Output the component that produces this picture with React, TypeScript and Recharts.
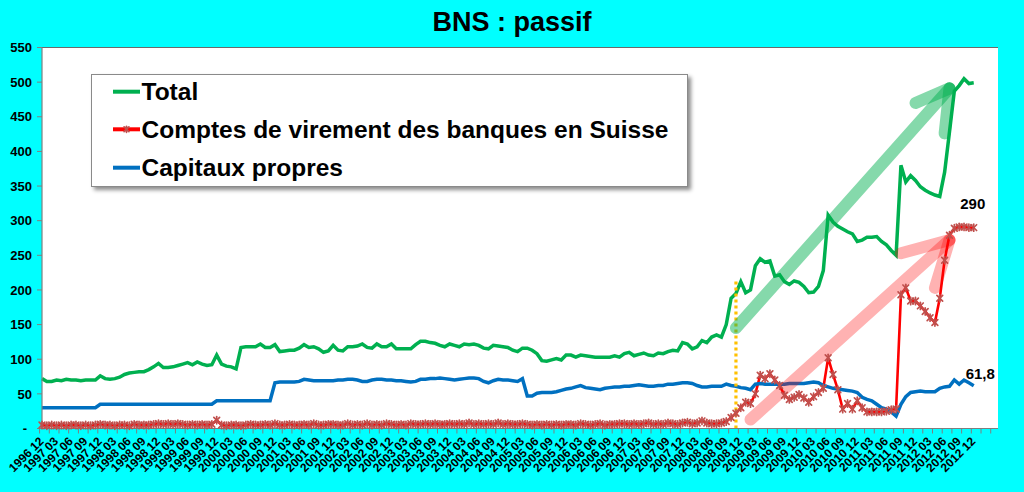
import React from 'react';
import {
  LineChart,
  Line,
  XAxis,
  YAxis,
  CartesianGrid,
  ReferenceLine,
  ReferenceDot,
  Legend,
} from 'recharts';

// ---------- categories ----------
const YEARS = ['1996', '1997', '1998', '1999', '2000', '2001', '2002', '2003', '2004', '2005', '2006', '2007', '2008', '2009', '2010', '2011', '2012', '2013'];
const MONTHS = ['01', '02', '03', '04', '05', '06', '07', '08', '09', '10', '11', '12'];
const CATEGORIES = YEARS.flatMap((y) => MONTHS.map((m) => `${y} ${m}`)).slice(11, 11 + 198);
const LAST_LABEL = '2012 12';
const Y_TICKS = [0, 50, 100, 150, 200, 250, 300, 350, 400, 450, 500, 550];

// ---------- series (monthly, 1996 12 -> 2012 12) ----------
const TOTAL = [
  72, 68, 68, 70, 69, 71, 70, 70, 69, 70, 70, 70,
  76, 72, 71, 72, 74, 78, 80, 81, 82, 82, 85, 89,
  94, 88, 88, 89, 91, 93, 95, 92, 96, 93, 91, 92,
  106, 93, 90, 89, 86, 117, 118, 118, 118, 122, 117, 117,
  121, 111, 112, 113, 113, 116, 121, 117, 118, 115, 110, 112,
  120, 113, 112, 118, 118, 119, 122, 117, 116, 122, 118, 118,
  122, 115, 115, 115, 115, 121, 126, 126, 124, 123, 120, 118,
  122, 120, 118, 122, 121, 122, 120, 116, 115, 120, 119, 118,
  117, 113, 111, 116, 116, 113, 108, 98, 97, 99, 101, 99,
  106, 106, 103, 106, 105, 104, 103, 103, 103, 103, 105, 103,
  108, 110, 105, 107, 109, 106, 105, 109, 108, 111, 113, 112,
  124, 122, 115, 118, 127, 124, 132, 135, 132, 150, 188, 195,
  212, 196, 200, 235, 245, 240, 242, 220, 222, 212, 208, 213,
  211, 205, 196, 197, 205, 228, 308, 298, 292, 288, 284, 281,
  270, 272, 276, 276, 277, 270, 265, 257, 250, 380, 356, 365,
  358, 349, 344, 340, 337, 335, 370, 428, 487, 495, 505, 498,
  499,
];

const COMPTES = [
  5, 4, 5, 4, 5, 4, 5, 5, 4, 5, 4, 5,
  6, 5, 5, 4, 5, 5, 4, 6, 5, 5, 5, 6,
  7, 6, 7, 6, 7, 6, 5, 6, 5, 6, 5, 6,
  12, 5, 4, 5, 5, 4, 5, 6, 5, 5, 6, 5,
  7, 5, 5, 6, 5, 5, 6, 5, 7, 5, 5, 6,
  6, 5, 5, 7, 5, 6, 5, 7, 5, 6, 5, 7,
  6, 5, 6, 5, 7, 6, 6, 7, 6, 7, 6, 6,
  7, 6, 7, 6, 8, 6, 7, 6, 7, 6, 8, 6,
  7, 6, 6, 7, 6, 5, 6, 5, 6, 5, 6, 5,
  6, 6, 5, 7, 6, 5, 6, 7, 5, 6, 6, 7,
  7, 6, 7, 6, 7, 8, 6, 7, 6, 8, 7, 6,
  8, 9, 7, 8, 11, 8, 7, 7, 8, 10, 16, 22,
  30, 38, 36, 50, 77, 72, 79, 70, 62, 48, 42, 45,
  49, 44, 38, 46, 52, 58, 102, 78, 56, 28, 36, 28,
  40, 30, 24, 24, 24, 24, 25, 27, 28, 193, 203, 184,
  184, 177, 169, 160, 153, 188, 243, 279, 289, 291, 291, 290,
  290,
];

const CAPITAUX = [
  30, 30, 30, 30, 30, 30, 30, 30, 30, 30, 30, 30,
  35, 35, 35, 35, 35, 35, 35, 35, 35, 35, 35, 35,
  35, 35, 35, 35, 35, 35, 35, 35, 35, 35, 35, 35,
  40, 40, 40, 40, 40, 40, 40, 40, 40, 40, 40, 40,
  66, 67, 67, 67, 67, 68, 71, 70, 69, 69, 69, 69,
  69, 70, 70, 71, 71, 70, 68, 68, 70, 71, 71, 70,
  70, 69, 69, 68, 67, 68, 71, 71, 72, 72, 73, 72,
  71, 70, 71, 72, 73, 73, 72, 68, 66, 69, 71, 70,
  70, 69, 68, 72, 47, 47, 51, 52, 52, 52, 53, 55,
  57, 58, 60, 62, 59, 58, 57, 56, 58, 59, 60, 60,
  61, 61, 62, 63, 62, 61, 61, 62, 62, 64, 64, 65,
  66, 66, 65, 62, 60, 60, 61, 61, 61, 64, 62, 61,
  59, 58, 56, 64, 65, 64, 64, 64, 64, 64, 65, 65,
  65, 65, 66, 67, 66, 62, 60, 58, 57, 56, 55, 54,
  52, 45, 42, 40, 35, 30, 28, 24, 18, 35, 46, 52,
  53, 54, 53, 53, 53, 58, 60, 61, 70, 64, 70, 66,
  61.8,
];

// ---------- annotations (in data coordinates) ----------
const CRISIS_LINE = { x: '2008 11', top: 215 };
const GREEN_ARROW = [
  [{ x: '2008 11', y: 145 }, { x: '2012 07', y: 491 }],
  [{ x: '2012 07', y: 491 }, { x: '2011 12', y: 470 }],
  [{ x: '2012 07', y: 491 }, { x: '2012 06', y: 426 }],
];
const RED_ARROW = [
  [{ x: '2009 02', y: 13 }, { x: '2012 07', y: 272 }],
  [{ x: '2012 07', y: 272 }, { x: '2011 09', y: 253 }],
  [{ x: '2012 07', y: 272 }, { x: '2012 04', y: 203 }],
];

const SERIES = [
  { key: 'total', name: 'Total', color: '#00B050' },
  { key: 'comptes', name: 'Comptes de virement des banques en Suisse', color: '#FF0000' },
  { key: 'capitaux', name: 'Capitaux propres', color: '#0070C0' },
];

const data = CATEGORIES.map((cat, i) => ({
  cat,
  total: TOTAL[i],
  comptes: COMPTES[i],
  capitaux: CAPITAUX[i],
}));

// ---------- layout ----------
const FONT = "'Liberation Sans', Arial, Helvetica, sans-serif";
const CHART_W = 1024;
const CHART_H = 492;
const MARGIN = { top: 47.5, right: 26, left: 0, bottom: 0 };
const Y_AXIS_W = 42;
const X_AXIS_H = 63.5;
const PLOT_W = CHART_W - MARGIN.right - Y_AXIS_W;
const PLOT_BOTTOM = CHART_H - X_AXIS_H;
const CAT_W = PLOT_W / CATEGORIES.length;
const LAST_INDEX = CATEGORIES.indexOf(LAST_LABEL);
const MARKER_COLOR = '#C0504D';

function Star({ cx, cy, r = 3.6 }: { cx: number; cy: number; r?: number }) {
  const d = r * 0.8;
  return (
    <g stroke={MARKER_COLOR} strokeWidth={1.7} strokeLinecap="round">
      <line x1={cx} y1={cy - r} x2={cx} y2={cy + r} />
      <line x1={cx - d} y1={cy - d} x2={cx + d} y2={cy + d} />
      <line x1={cx - d} y1={cy + d} x2={cx + d} y2={cy - d} />
    </g>
  );
}

function StarDot(props: any) {
  const { cx, cy, value, index } = props;
  if (cx == null || cy == null || value == null || Number.isNaN(cy)) return <g key={`e${index}`} />;
  return (
    <g key={`s${index}`}>
      <Star cx={cx} cy={cy} />
    </g>
  );
}

function XTick(props: any) {
  const { x, payload } = props;
  const i = payload?.index ?? props.index;
  const showBoundary = i % 2 === 0;
  const showLabel = i % 3 === 0 && i <= LAST_INDEX;
  const ax = x + 2.5;
  const ay = PLOT_BOTTOM + 13.5;
  return (
    <g>
      {showBoundary && (
        <line x1={x - CAT_W / 2} x2={x - CAT_W / 2} y1={PLOT_BOTTOM} y2={PLOT_BOTTOM + 5} stroke="#7f7f7f" strokeWidth={1} />
      )}
      {showLabel && (
        <text
          x={ax}
          y={ay}
          transform={`rotate(-45 ${ax} ${ay})`}
          textAnchor="end"
          fontFamily={FONT}
          fontWeight={700}
          fontSize={12}
          fill="#000"
        >
          {payload.value}
        </text>
      )}
    </g>
  );
}

function YTick(props: any) {
  const { x, y, payload } = props;
  const v = payload.value;
  return (
    <text
      x={v === 0 ? x - 5 : x}
      y={y}
      dy="0.36em"
      textAnchor="end"
      fontFamily={FONT}
      fontWeight={700}
      fontSize={13}
      fill="#000"
    >
      {v === 0 ? '-' : String(v)}
    </text>
  );
}

function EndLabel({ viewBox, text, dx, dy }: any) {
  if (!viewBox) return null;
  const cx = viewBox.x + (viewBox.width || 0) / 2;
  const cy = viewBox.y + (viewBox.height || 0) / 2;
  return (
    <text x={cx + dx} y={cy + dy} textAnchor="middle" fontFamily={FONT} fontWeight={700} fontSize={15} fill="#000">
      {text}
    </text>
  );
}

function LegendBox() {
  const rows = [16.7, 54.3, 92.7];
  return (
    <div
      style={{
        width: 597,
        height: 113,
        background: '#FFFFFF',
        border: '1px solid #8a8a8a',
        boxSizing: 'border-box',
        boxShadow: '3px 3px 4px rgba(0,0,0,0.45)',
      }}
    >
      <svg width={595} height={111} style={{ display: 'block' }}>
        {SERIES.map((s, k) => (
          <g key={s.key}>
            <line x1={21} x2={48} y1={rows[k]} y2={rows[k]} stroke={s.color} strokeWidth={4} />
            {s.key === 'comptes' && <Star cx={34.5} cy={rows[k]} r={3} />}
            <text x={49.5} y={rows[k] + 8.6} fontFamily={FONT} fontWeight={700} fontSize={24.5} fill="#000">
              {s.name}
            </text>
          </g>
        ))}
      </svg>
    </div>
  );
}

const fmt = (v: number) => String(v).replace('.', ',');

export default function App() {
  return (
    <div style={{ position: 'relative', width: CHART_W, height: CHART_H, background: '#00FFFF', overflow: 'hidden' }}>
      <style>{'body{margin:0}'}</style>
      <div
        style={{
          position: 'absolute',
          left: 0,
          top: 8.7,
          width: CHART_W,
          textAlign: 'center',
          fontFamily: FONT,
          fontWeight: 700,
          fontSize: 27,
          lineHeight: '27px',
          color: '#000',
        }}
      >
        BNS : passif
      </div>
      <LineChart width={CHART_W} height={CHART_H} data={data} margin={MARGIN}>
        <CartesianGrid horizontal vertical={false} fill="#FFFFFF" stroke="#6a6a6a" strokeWidth={1.2} />
        <XAxis
          dataKey="cat"
          type="category"
          interval={0}
          height={X_AXIS_H}
          tick={<XTick />}
          tickLine={false}
          tickSize={6}
          tickMargin={2}
          axisLine={{ stroke: '#7f7f7f', strokeWidth: 1.2 }}
        />
        <YAxis
          yAxisId="left"
          width={Y_AXIS_W}
          domain={[0, 550]}
          ticks={Y_TICKS}
          interval={0}
          tick={<YTick />}
          tickSize={5}
          tickMargin={5}
          tickLine={{ stroke: '#7f7f7f' }}
          axisLine={{ stroke: '#7f7f7f', strokeWidth: 1.2 }}
        />
        <YAxis
          yAxisId="right"
          orientation="right"
          width={0}
          domain={[0, 550]}
          tick={false}
          tickLine={false}
          axisLine={{ stroke: '#9a9a9a', strokeWidth: 1.5 }}
        />
        <Legend
          layout="vertical"
          align="center"
          verticalAlign="middle"
          content={() => <LegendBox />}
          wrapperStyle={{ left: 91, top: 74, width: 597, height: 113 }}
        />
        <Line
          yAxisId="left"
          dataKey="total"
          name={SERIES[0].name}
          stroke={SERIES[0].color}
          strokeWidth={3.5}
          dot={false}
          activeDot={false}
          isAnimationActive={false}
        />
        <Line
          yAxisId="left"
          dataKey="comptes"
          name={SERIES[1].name}
          stroke={SERIES[1].color}
          strokeWidth={2.6}
          dot={StarDot}
          activeDot={false}
          isAnimationActive={false}
        />
        <Line
          yAxisId="left"
          dataKey="capitaux"
          name={SERIES[2].name}
          stroke={SERIES[2].color}
          strokeWidth={3.5}
          dot={false}
          activeDot={false}
          isAnimationActive={false}
        />
        <ReferenceLine
          yAxisId="left"
          segment={[
            { x: CRISIS_LINE.x, y: 0 },
            { x: CRISIS_LINE.x, y: CRISIS_LINE.top },
          ]}
          stroke="#FFC000"
          strokeWidth={3.2}
          strokeDasharray="3 3"
          ifOverflow="visible"
        />
        {GREEN_ARROW.map((seg, k) => (
          <ReferenceLine
            key={`g${k}`}
            yAxisId="left"
            segment={seg}
            stroke="#00B050"
            strokeOpacity={0.48}
            strokeWidth={12}
            strokeLinecap="round"
            ifOverflow="visible"
          />
        ))}
        {RED_ARROW.map((seg, k) => (
          <ReferenceLine
            key={`r${k}`}
            yAxisId="left"
            segment={seg}
            stroke="#FF0000"
            strokeOpacity={0.3}
            strokeWidth={12}
            strokeLinecap="round"
            ifOverflow="visible"
          />
        ))}
        <ReferenceDot
          yAxisId="left"
          x={LAST_LABEL}
          y={COMPTES[LAST_INDEX]}
          r={0}
          fill="none"
          stroke="none"
          ifOverflow="visible"
          label={<EndLabel text={fmt(COMPTES[LAST_INDEX])} dx={-1} dy={-19} />}
        />
        <ReferenceDot
          yAxisId="left"
          x={LAST_LABEL}
          y={CAPITAUX[LAST_INDEX]}
          r={0}
          fill="none"
          stroke="none"
          ifOverflow="visible"
          label={<EndLabel text={fmt(CAPITAUX[LAST_INDEX])} dx={6.5} dy={-6.5} />}
        />
      </LineChart>
    </div>
  );
}
